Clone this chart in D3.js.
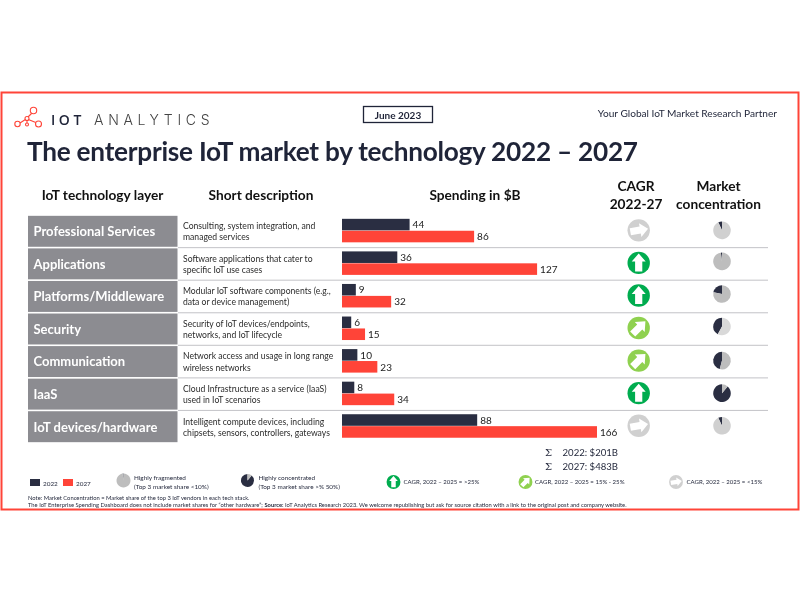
<!DOCTYPE html>
<html>
<head>
<meta charset="utf-8">
<script src="https://cdn.jsdelivr.net/npm/d3@7"></script>
<style>
  body { margin: 0; background: #fff; }
  svg { filter: blur(0.3px); }
  text { font-family: "Lato", sans-serif; fill: #1f2438; }
</style>
</head>
<body>
<div id="chart"></div>
<script>
// Chart values
const layers = ["Professional Services", "Applications", "Platforms/Middleware", "Security", "Communication", "IaaS", "IoT devices/hardware"];
const descriptions = [
    ["Consulting, system integration, and", "managed services"],
    ["Software applications that cater to", "specific IoT use cases"],
    ["Modular IoT software components (e.g.,", "data or device management)"],
    ["Security of IoT devices/endpoints,", "networks, and IoT lifecycle"],
    ["Network access and usage in long range", "wireless networks"],
    ["Cloud Infrastructure as a service (IaaS)", "used in IoT scenarios"],
    ["Intelligent compute devices, including", "chipsets, sensors, controllers, gateways"]
];
const years = ["2022", "2027"];
const spend2022 = [44, 36, 9, 6, 10, 8, 88];
const spend2027 = [86, 127, 32, 15, 23, 34, 166];
const cagrClass = ["low", "high", "high", "mid", "mid", "high", "low"];
const topShare = [0.07, 0.02, 0.22, 0.42, 0.46, 0.89, 0.07];
const totals = ["2022: $201B", "2027: $483B"];

const width = 800, height = 603;
const dark = "#2a2e42", red = "#ff4438";

const svg = d3.select("#chart").append("svg")
    .attr("width", width).attr("height", height)
    .style("display", "block");

// Red frame
svg.append("rect").attr("x", 1.5).attr("y", 92.5).attr("width", 797).attr("height", 417)
    .attr("fill", "#fff").attr("stroke", red).attr("stroke-width", 2);

// Logo
const logo = svg.append("g").attr("fill", "none").attr("stroke", red).attr("stroke-width", 1.1);
const logoNodes = [[17.5, 124, 2.7], [27, 118.5, 2], [27, 124.5, 1.5], [33.5, 110.5, 3.2], [38.5, 124, 3]];
logo.append("path").attr("d", "M20 123L25.4 119.5M27 120.5V123M28 117L32 113M28.3 119.5L35.8 122.5");
logo.selectAll("circle").data(logoNodes).enter().append("circle")
    .attr("cx", d => d[0]).attr("cy", d => d[1]).attr("r", d => d[2]).attr("fill", "#fff");
svg.append("text").attr("x", 51).attr("y", 125).attr("font-size", 14).attr("letter-spacing", 3.6)
    .attr("font-weight", 600).style("font-family", "'Open Sans', sans-serif").text("IOT");
svg.append("text").attr("x", 94).attr("y", 125).attr("font-size", 14).attr("letter-spacing", 4.7)
    .attr("font-weight", 300).style("font-family", "'Inter', sans-serif").style("fill", "#444").text("ANALYTICS");

// Date box and tagline
svg.append("rect").attr("x", 363.5).attr("y", 106.5).attr("width", 69).attr("height", 16)
    .attr("fill", "#fff").attr("stroke", "#1f2438").attr("stroke-width", 1.3);
svg.append("text").attr("x", 398).attr("y", 118.5).attr("text-anchor", "middle")
    .attr("font-size", 10).attr("font-weight", 700).text("June 2023");
svg.append("text").attr("x", 777).attr("y", 117).attr("text-anchor", "end")
    .attr("font-size", 10.15).text("Your Global IoT Market Research Partner");

// Title
svg.append("text").attr("x", 27).attr("y", 160.5).attr("font-size", 26.2).attr("font-weight", 700)
    .attr("letter-spacing", -0.25)
    .text("The enterprise IoT market by technology 2022 – 2027");

// Column headers
const headers = [
    { x: 102.5, lines: ["IoT technology layer"], y: 200 },
    { x: 261, lines: ["Short description"], y: 200 },
    { x: 475, lines: ["Spending in $B"], y: 200 },
    { x: 636, lines: ["CAGR", "2022-27"], y: 191 },
    { x: 718.5, lines: ["Market", "concentration"], y: 191 }
];
headers.forEach(h => h.lines.forEach((l, i) => {
    svg.append("text").attr("x", h.x).attr("y", h.y + i * 18)
        .attr("text-anchor", "middle").attr("font-size", 13.7).attr("font-weight", 700).style("fill", "#111").text(l);
}));

// Scales
const rowY = d3.scaleBand().domain(layers).range([215.5, 442.5]).paddingInner(0.05).paddingOuter(0.01);
const barX = d3.scaleLinear().domain([0, 166]).range([342, 597]);
const yearY = d3.scaleBand().domain(years).range([3, 26.5]).paddingInner(0.03);
const yearColor = d3.scaleOrdinal().domain(years).range([dark, red]);

const cagrColor = d3.scaleOrdinal().domain(["high", "mid", "low"]).range(["#00ac4f", "#8fd14f", "#d0d0d0"]);
const cagrAngle = d3.scaleOrdinal().domain(["high", "mid", "low"]).range([0, 45, 80]);
const pieGrey = ["#d0d0d0", "#bdbdbd", "#bdbdbd", "#d9d9d9", "#bdbdbd", "#bdbdbd", "#d0d0d0"];

const pie = d3.pie().sort(null);
const arrowPath = "M0 -9.5L7 -1.5H3.6V8.5H-3.6V-1.5H-7Z";

function drawArrowBadge(g, cx, cy, cls, scale) {
    const b = g.append("g").attr("transform", `translate(${cx},${cy}) scale(${scale})`);
    b.append("circle").attr("r", 11.2).attr("fill", cagrColor(cls));
    b.append("path").attr("d", arrowPath).attr("fill", "#fff")
        .attr("transform", `rotate(${cagrAngle(cls)})`);
}

function drawPie(g, cx, cy, share, grey, r) {
    const a = -share * 2 * Math.PI;
    const arcs = pie.startAngle(a).endAngle(a + 2 * Math.PI)([share, 1 - share]);
    const arc = d3.arc().innerRadius(0).outerRadius(r);
    g.append("g").attr("transform", `translate(${cx},${cy})`)
        .selectAll("path").data(arcs).enter().append("path")
        .attr("d", arc)
        .attr("fill", (d, i) => i === 0 ? dark : grey);
}

// Rows
const rows = svg.selectAll(".row").data(layers).enter().append("g").attr("class", "row")
    .attr("transform", d => `translate(0,${rowY(d)})`);

rows.append("rect").attr("x", 28).attr("y", 0).attr("width", 149.5)
    .attr("height", rowY.bandwidth()).attr("fill", "#8c8c91");
rows.append("text").attr("x", 33.5).attr("y", rowY.bandwidth() / 2 + 4.9)
    .attr("font-size", 13).attr("font-weight", 700).style("fill", "#fff")
    .text(d => d);

rows.each(function (d, i) {
    const g = d3.select(this);
    descriptions[i].forEach((l, k) => {
        g.append("text").attr("x", 183).attr("y", 13.3 + k * 11.2)
            .attr("font-size", 8.6).style("fill", "#2b2b2b").text(l);
    });
    [spend2022[i], spend2027[i]].forEach((v, k) => {
        const yr = years[k];
        g.append("rect").attr("x", barX(0)).attr("y", yearY(yr))
            .attr("width", barX(v) - barX(0)).attr("height", yearY.bandwidth())
            .attr("fill", yearColor(yr));
        g.append("text").attr("x", barX(v) + 3).attr("y", yearY(yr) + yearY.bandwidth() / 2 + 3.7)
            .attr("font-size", 10).style("fill", "#222").text(v);
    });
    // separator under the row
    if (i < layers.length - 1) {
        g.append("rect").attr("x", 178).attr("y", rowY.bandwidth() + 0.3)
            .attr("width", 590).attr("height", 1.1).attr("fill", "#c8c8cc");
    }
    drawArrowBadge(g, 638.7, 14.5, cagrClass[i], 1);
    drawPie(g, 722, i === 0 || i > 3 ? 14.5 : 13, topShare[i], pieGrey[i], 8.8);
});

// Totals
totals.forEach((t, i) => {
    const y = 456 + i * 13.5;
    svg.append("text").attr("x", 545).attr("y", y).attr("font-size", 10)
        .style("font-family", "'DejaVu Serif', serif").text("Σ");
    svg.append("text").attr("x", 562.5).attr("y", y).attr("font-size", 9.6).text(t);
});

// Legend
const legend = svg.append("g");
years.forEach((yr, i) => {
    const x = 30 + i * 33;
    legend.append("rect").attr("x", x).attr("y", 479).attr("width", 10).attr("height", 7).attr("fill", yearColor(yr));
    legend.append("text").attr("x", x + 13).attr("y", 486).attr("font-size", 6.4).text(yr);
});
drawPie(legend, 123.5, 480.5, 0.02, "#bdbdbd", 7);
drawPie(legend, 247.5, 480.5, 0.89, "#bdbdbd", 6.5);
[["Highly fragmented", "(Top 3 market share <10%)", 134], ["Highly concentrated", "(Top 3 market share >% 50%)", 258.5]].forEach(d => {
    legend.append("text").attr("x", d[2]).attr("y", 480).attr("font-size", 6.4).text(d[0]);
    legend.append("text").attr("x", d[2]).attr("y", 488.5).attr("font-size", 6.4).text(d[1]);
});
[["high", 393.5, 403.5, "CAGR, 2022 – 2025 = >25%"], ["mid", 525.5, 535, "CAGR, 2022 – 2025 = 15% - 25%"], ["low", 676, 686.5, "CAGR, 2022 – 2025 = <15%"]].forEach(d => {
    drawArrowBadge(legend, d[1], 482, d[0], 0.62);
    legend.append("text").attr("x", d[2]).attr("y", 484).attr("font-size", 6.05).text(d[3]);
});

// Notes
svg.append("text").attr("x", 28).attr("y", 499.5).attr("font-size", 5.8)
    .text("Note: Market Concentration = Market share of the top 3 IoT vendors in each tech stack.");
const source = svg.append("text").attr("x", 28).attr("y", 507).attr("font-size", 5.8);
source.append("tspan").text("The IoT Enterprise Spending Dashboard does not include market shares for “other hardware”; ");
source.append("tspan").attr("font-weight", 700).text("Source:");
source.append("tspan").text(" IoT Analytics Research 2023. We welcome republishing but ask for source citation with a link to the original post and company website.");
</script>
</body>
</html>
